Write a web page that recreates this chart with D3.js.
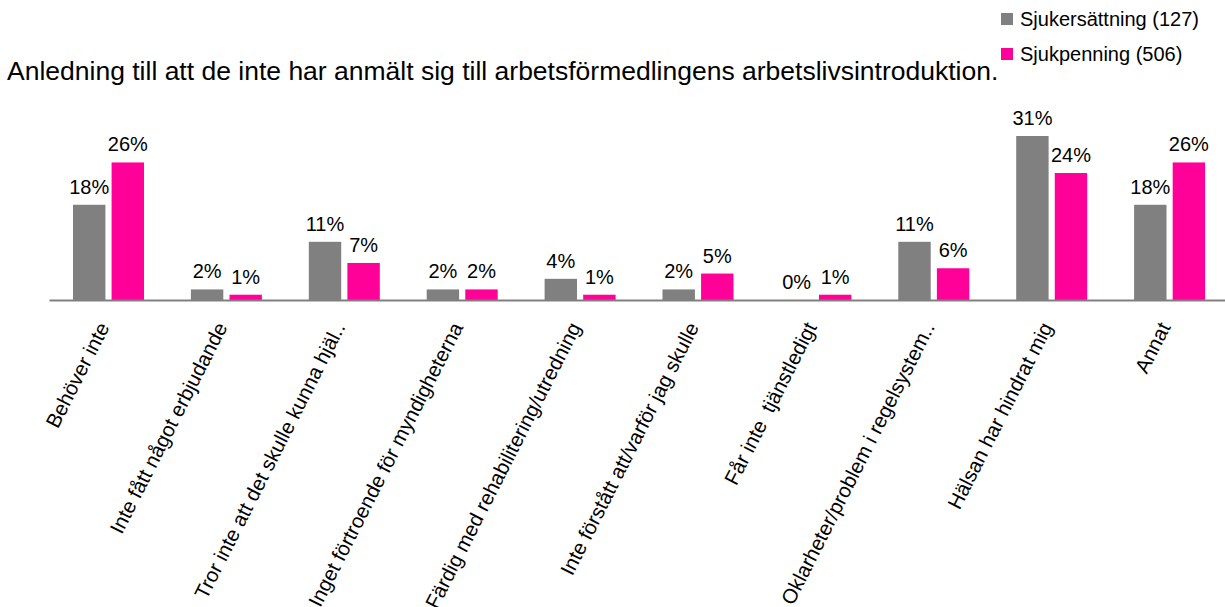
<!DOCTYPE html>
<html>
<head>
<meta charset="utf-8">
<script src="https://cdn.jsdelivr.net/npm/d3@7"></script>
<style>
  body { margin: 0; background: #fff; }
  svg { font-family: Arial, 'Liberation Sans', sans-serif; }
</style>
</head>
<body>
<div class="container"></div>
<script>
const title = 'Anledning till att de inte har anmält sig till arbetsförmedlingens arbetslivsintroduktion.';

const categories = [
  'Behöver inte',
  'Inte fått något erbjudande',
  'Tror inte att det skulle kunna hjäl..',
  'Inget förtroende för myndigheterna',
  'Färdig med rehabilitering/utredning',
  'Inte förstått att/varför jag skulle',
  'Får inte  tjänstledigt',
  'Oklarheter/problem i regelsystem..',
  'Hälsan har hindrat mig',
  'Annat'
];

const seriesNames = ['Sjukersättning (127)', 'Sjukpenning (506)'];
const sjukersattning = [18, 2, 11, 2, 4, 2, 0, 11, 31, 18];
const sjukpenning = [26, 1, 7, 2, 1, 5, 1, 6, 24, 26];
const colors = ['#808080', '#ff0099'];

const renderChart = () => {
  const width = 1225;
  const height = 607;
  const baseline = 300;

  const svg = d3.select('.container').append('svg').attr('width', width).attr('height', height);

  const data = categories.map((c, i) => ({
    category: c,
    values: [sjukersattning[i], sjukpenning[i]].map((v, j) => ({ name: seriesNames[j], value: v, color: colors[j] }))
  }));

  const xScale = d3.scaleBand().domain(categories).range([49, 1228]);
  const x1Scale = d3.scaleBand().domain(seriesNames).range([24, 95]).paddingInner(0.16);
  const yScale = d3.scaleLinear().domain([0, 31]).range([baseline, 136]);

  // title
  svg
    .append('text')
    .text(title)
    .attr('x', 7)
    .attr('y', 80)
    .attr('font-size', 26.5)
    .attr('fill', '#000');

  // legend
  const legend = svg.append('g').attr('class', 'legend');
  const legendItem = legend
    .selectAll('g')
    .data(seriesNames)
    .enter()
    .append('g')
    .attr('transform', (d, i) => `translate(1001,${13 + i * 35})`);

  legendItem
    .append('rect')
    .attr('width', 12)
    .attr('height', 12)
    .attr('fill', (d, i) => colors[i]);

  legendItem
    .append('text')
    .attr('x', 19)
    .attr('y', 13)
    .attr('font-size', 20)
    .text(d => d);

  // bars
  const group = svg
    .append('g')
    .attr('class', 'bars')
    .selectAll('g')
    .data(data)
    .enter()
    .append('g')
    .attr('transform', d => `translate(${xScale(d.category)},0)`);

  group
    .selectAll('rect')
    .data(d => d.values)
    .enter()
    .append('rect')
    .attr('x', d => x1Scale(d.name))
    .attr('width', x1Scale.bandwidth())
    .attr('y', d => yScale(d.value))
    .attr('height', d => baseline - yScale(d.value))
    .attr('fill', d => d.color);

  group
    .selectAll('text')
    .data(d => d.values)
    .enter()
    .append('text')
    .attr('x', d => x1Scale(d.name) + x1Scale.bandwidth() / 2)
    .attr('y', d => yScale(d.value) - 11)
    .attr('text-anchor', 'middle')
    .attr('font-size', 20)
    .attr('fill', '#000')
    .text(d => d.value + '%');

  // axis
  const bottomAxis = d3.axisBottom(xScale).tickSize(0).tickPadding(0);
  const axisGroup = svg.append('g').attr('class', 'bottom-axis').attr('transform', `translate(0,${baseline})`);
  bottomAxis(axisGroup);

  axisGroup.select('.domain').attr('stroke', '#808080').attr('stroke-width', 2);

  axisGroup
    .selectAll('.tick text')
    .attr('font-family', 'Arial, Liberation Sans, sans-serif')
    .attr('font-size', 20.5)
    .attr('fill', '#000')
    .attr('text-anchor', 'end')
    .attr('dy', 0)
    .attr('y', 0)
    .attr('transform', 'translate(2,27) rotate(-63)')
    .style('white-space', 'pre');
};

renderChart();
</script>
</body>
</html>
